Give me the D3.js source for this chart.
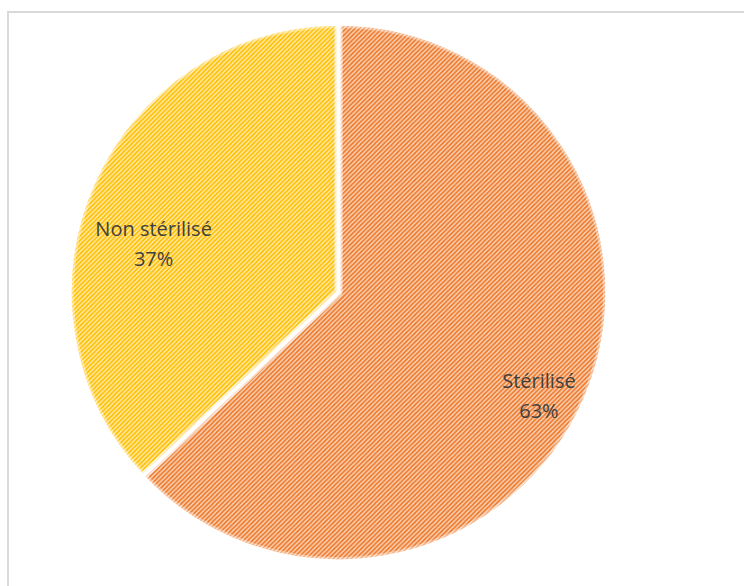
<!DOCTYPE html>
<html>
<head>
<meta charset="utf-8">
<script src="https://cdn.jsdelivr.net/npm/d3@7"></script>
<style>
  html, body { margin: 0; padding: 0; background: #fff; }
  svg { display: block; }
</style>
</head>
<body>
<svg id="chart" width="744" height="586"></svg>
<script>
// Sterilisation status of the animals (share of total)
const categories = ["Stérilisé", "Non stérilisé"];
const values = [63, 37];
const percentLabels = ["63%", "37%"];

// Slice styling: pattern foreground / background
const fgColors = ["#EE7A2C", "#FFC000"];
const bgColors = ["#FBDCC6", "#FFEEBE"];

const W = 744, H = 586;
const cx = 338.5, cy = 292.5, R = 268.5;

const svg = d3.select("#chart");

// Chart area border (extends past the right and bottom of the view)
svg.append("rect")
  .attr("x", 8).attr("y", 12)
  .attr("width", W + 20).attr("height", H + 20)
  .attr("fill", "#fff")
  .attr("stroke", "#d9d9d9")
  .attr("stroke-width", 2);

// Wide upward-diagonal hatch pattern per slice
const defs = svg.append("defs");
categories.forEach((c, i) => {
  const p = defs.append("pattern")
    .attr("id", "hatch" + i)
    .attr("patternUnits", "userSpaceOnUse")
    .attr("width", 4.5).attr("height", 4.5);
  p.append("rect").attr("width", 4.5).attr("height", 4.5).attr("fill", bgColors[i]);
  p.append("path")
    .attr("d", "M0,4.5 L4.5,0 M-1.125,1.125 L1.125,-1.125 M3.375,5.625 L5.625,3.375")
    .attr("stroke", fgColors[i])
    .attr("stroke-width", 1.8)
    .attr("stroke-linecap", "square");
});

const pie = d3.pie().sort(null).value(d => d);
const arcs = pie(values);
const arc = d3.arc().innerRadius(0).outerRadius(R);

const g = svg.append("g").attr("transform", `translate(${cx},${cy})`);

// Slices
g.selectAll("path.slice")
  .data(arcs)
  .join("path")
  .attr("class", "slice")
  .attr("d", arc)
  .attr("fill", (d, i) => `url(#hatch${i})`);

// Soft light rim around each slice
g.selectAll("path.rim")
  .data(arcs)
  .join("path")
  .attr("class", "rim")
  .attr("d", arc)
  .attr("fill", "none")
  .attr("stroke", "#fff")
  .attr("stroke-opacity", 0.4)
  .attr("stroke-width", 8)
  .attr("stroke-linejoin", "round");

// Solid white separators
g.selectAll("path.sep")
  .data(arcs)
  .join("path")
  .attr("class", "sep")
  .attr("d", arc)
  .attr("fill", "none")
  .attr("stroke", "#fff")
  .attr("stroke-width", 3.5)
  .attr("stroke-linejoin", "round");

// Data labels: radial distance and angular shift for each slice
const labelLayout = [
  { rf: 0.835, shift: 3.2 },
  { rf: 0.715, shift: -7.8 }
];

arcs.forEach((d, i) => {
  const a = (d.startAngle + d.endAngle) / 2 + labelLayout[i].shift * Math.PI / 180;
  const r = R * labelLayout[i].rf;
  const x = Math.sin(a) * r;
  const y = -Math.cos(a) * r;
  const t = g.append("text")
    .attr("x", x).attr("y", y)
    .attr("text-anchor", "middle")
    .attr("font-family", "'Open Sans', sans-serif")
    .attr("font-size", 20)
    .attr("fill", "#404040");
  t.append("tspan").attr("x", x).attr("dy", "-0.25em").text(categories[i]);
  t.append("tspan").attr("x", x).attr("dy", "1.5em").text(percentLabels[i]);
});
</script>
</body>
</html>
